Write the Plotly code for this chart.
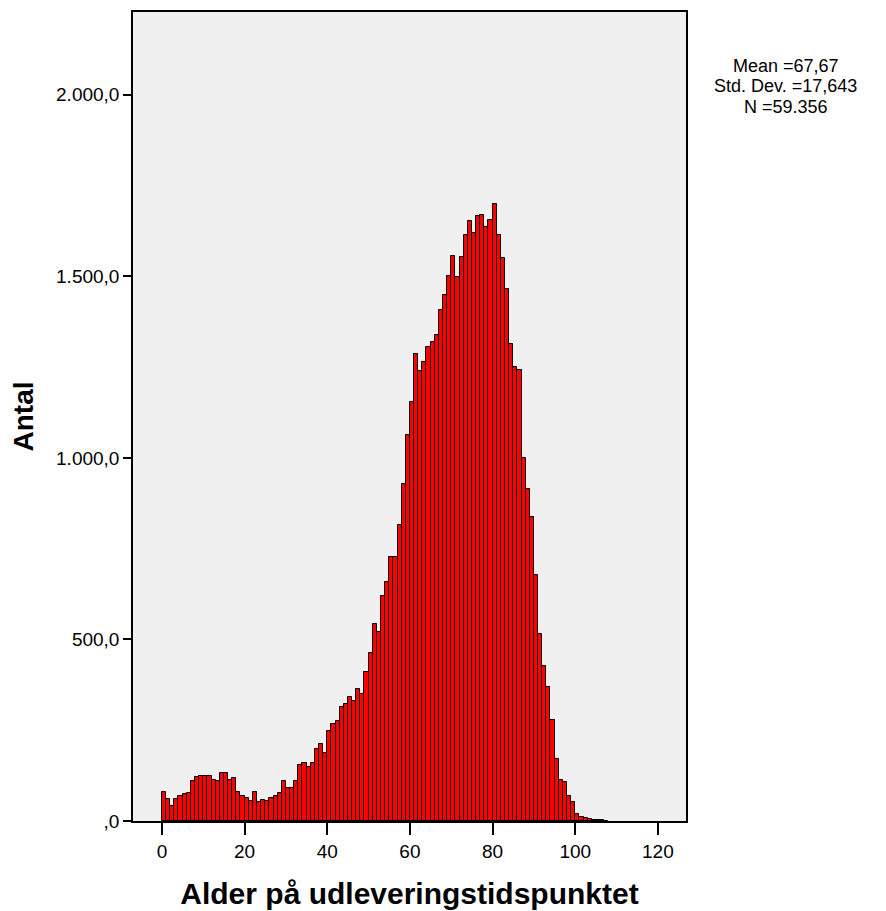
import plotly.graph_objects as go

# Age (1-year bins, left edge) and count per bin
ages = list(range(0, 108))
counts = [
    80, 61, 40, 60, 70, 74, 76, 110, 121, 124,
    123, 124, 113, 109, 131, 133, 113, 119, 80, 70,
    62, 55, 81, 53, 59, 55, 63, 68, 76, 110,
    92, 90, 110, 153, 159, 148, 159, 198, 211, 187,
    247, 267, 275, 313, 322, 341, 330, 363, 349, 410,
    464, 543, 520, 619, 657, 728, 727, 815, 929, 1063,
    1153, 1285, 1238, 1265, 1306, 1319, 1338, 1407, 1450, 1500,
    1555, 1497, 1554, 1615, 1652, 1619, 1665, 1668, 1635, 1656,
    1700, 1613, 1550, 1464, 1314, 1249, 1241, 1000, 913, 838,
    678, 515, 426, 369, 277, 170, 113, 108, 69, 52,
    20, 10, 8, 5, 3, 2, 3, 1,
]

y_ticks = [0, 500, 1000, 1500, 2000]
y_labels = [",0", "500,0", "1.000,0", "1.500,0", "2.000,0"]
x_ticks = [0, 20, 40, 60, 80, 100, 120]

stats_lines = ["Mean =67,67", "Std. Dev. =17,643", "N =59.356"]

FONT = "Liberation Sans, Arial, sans-serif"

fig = go.Figure(go.Bar(
    x=ages, y=counts, width=1, offset=0,
    marker=dict(color="#FF0000", line=dict(color="#000000", width=1)),
    hoverinfo="x+y",
))

# page body adds an 8px offset, so margins are shifted to compensate
fig.update_layout(
    width=886, height=911,
    paper_bgcolor="white",
    plot_bgcolor="#F0F0F0",
    font=dict(family=FONT, color="black", size=19),
    margin=dict(l=125, r=208, t=2, b=98),
    showlegend=False,
    bargap=0,
    xaxis=dict(
        range=[-7.0, 126.8],
        tickvals=x_ticks,
        ticks="outside", ticklen=12, tickwidth=2, tickcolor="black",
        showline=True, linecolor="black", linewidth=1.5, mirror=True,
        showgrid=False, zeroline=False,
        tickfont=dict(size=19),
        title=dict(text="<b>Alder på udleveringstidspunktet</b>",
                   font=dict(size=30), standoff=22),
    ),
    yaxis=dict(
        range=[0, 2228],
        tickvals=y_ticks, ticktext=y_labels,
        ticks="outside", ticklen=8, tickwidth=2, tickcolor="black",
        showline=True, linecolor="black", linewidth=1.5, mirror=True,
        showgrid=False, zeroline=False,
        tickfont=dict(size=19),
        title=dict(text="<b>Antal</b>", font=dict(size=28), standoff=14),
    ),
)

# stats box, one line per annotation for tighter line spacing
for i, line in enumerate(stats_lines):
    fig.add_annotation(
        text=line, xref="paper", yref="paper",
        x=1.18, y=0.9334 - i * 0.0253, xanchor="center", yanchor="middle",
        showarrow=False, align="center",
        font=dict(size=18, color="black"),
    )

fig.write_html("out.html")
